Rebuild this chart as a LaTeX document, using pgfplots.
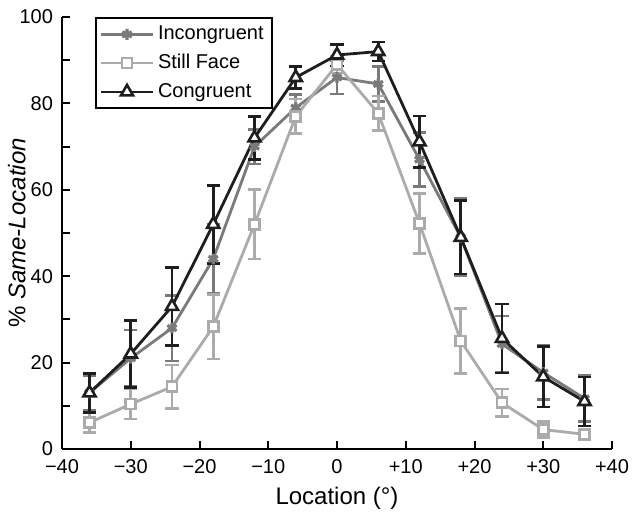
\documentclass[border=0pt]{standalone}
\usepackage{pgfplots}
\pgfplotsset{compat=1.18}
\usepackage{fontspec}
\setmainfont{Liberation Sans}
\definecolor{incon}{HTML}{7A7A7A}
\definecolor{still}{HTML}{ABABAB}
\definecolor{congr}{HTML}{1E1E1E}

\begin{document}
\begin{tikzpicture}
\begin{axis}[
  scale only axis,
  width=275pt, height=216pt,
  xmin=-40, xmax=40, ymin=0, ymax=100,
  axis lines=left,
  axis line style={-, line width=1pt},
  tick align=inside,
  tick style={line width=1pt, black},
  major tick length=4pt, minor tick length=4pt,
  xtick={-40,-30,...,40},
  xticklabels={−40,−30,−20,−10,0,+10,+20,+30,+40},
  ytick={0,20,...,100},
  yticklabels={0,20,40,60,80,100},
  minor ytick={10,30,...,90},
  ticklabel style={font=\fontsize{10}{12}\selectfont},
  yticklabel style={xshift=-1pt},
  xticklabel style={yshift=-1.5pt},
  xlabel={Location (°)},
  ylabel={\% \textit{Same-Location}},
  label style={font=\fontsize{12}{14}\selectfont},
  xlabel style={yshift=0pt},
  ylabel style={at={(axis description cs:-0.082,0.5)}, anchor=center},
  legend style={at={(axis cs:-35.2,100)}, anchor=north west,
    draw=black, line width=1pt, font=\fontsize{10}{12}\selectfont,
    inner xsep=2pt, inner ysep=2pt, row sep=1.8pt},
  legend cell align=left,
  legend image code/.code={\draw[mark repeat=2,mark phase=2]
    plot coordinates {(0cm,0cm) (0.45cm,0cm) (0.9cm,0cm)};},
  every axis plot/.append style={line width=1.4pt},
  clip=false,
]
\coordinate (bl) at (axis cs:-40,0);
\coordinate (tr) at (axis cs:40,100);

\addplot[incon, mark=asterisk, mark size=2.7pt, mark options={line width=1.6pt},
  error bars/.cd, y dir=both, y explicit,
  error bar style={line width=1.3pt, incon},
  error mark options={rotate=90, mark size=3.3pt, line width=1.3pt, incon}]
coordinates {
  (-36,13) +- (0,4)
  (-30,21) +- (0,6.5)
  (-24,28) +- (0,7.6)
  (-18,44) +- (0,8)
  (-12,70) +- (0,4)
  (-6,79) +- (0,3)
  (0,86) +- (0,3.8)
  (6,84.5) +- (0,4)
  (12,67) +- (0,6.2)
  (18,49) +- (0,9)
  (24,24.3) +- (0,6.5)
  (30,17.7) +- (0,6.3)
  (36,11.7) +- (0,5.3)
};
\addlegendentry{Incongruent}

\addplot[still, mark=square*, mark size=2.5pt, mark options={fill=white, line width=1.3pt},
  error bars/.cd, y dir=both, y explicit,
  error bar style={line width=1.3pt, still},
  error mark options={rotate=90, mark size=3.3pt, line width=1.3pt, still}]
coordinates {
  (-36,6.1) +- (0,2.3)
  (-30,10.4) +- (0,3.5)
  (-24,14.4) +- (0,5)
  (-18,28.3) +- (0,7.5)
  (-12,52) +- (0,8)
  (-6,77) +- (0,4)
  (0,89) +- (0,2)
  (6,77.7) +- (0,4)
  (12,52.2) +- (0,7)
  (18,25) +- (0,7.5)
  (24,10.7) +- (0,3.2)
  (30,4.5) +- (0,1.8)
  (36,3.4) +- (0,1)
};
\addlegendentry{Still Face}

\addplot[congr, mark=triangle*, mark size=3.5pt, mark options={fill=white, line width=1.3pt},
  error bars/.cd, y dir=both, y explicit,
  error bar style={line width=1.3pt, congr},
  error mark options={rotate=90, mark size=3.3pt, line width=1.3pt, congr}]
coordinates {
  (-36,13) +- (0,4.5)
  (-30,22) +- (0,7.8)
  (-24,33) +- (0,9)
  (-18,52) +- (0,9)
  (-12,72) +- (0,5)
  (-6,86) +- (0,2.5)
  (0,91.2) +- (0,2.5)
  (6,92) +- (0,2.2)
  (12,71.1) +- (0,6)
  (18,49) +- (0,8.5)
  (24,25.6) +- (0,8)
  (30,16.7) +- (0,7)
  (36,11) +- (0,5.7)
};
\addlegendentry{Congruent}
\end{axis}
\pgfresetboundingbox
\path ([xshift=-31pt,yshift=-33.5pt]bl) rectangle ([xshift=14pt,yshift=8.5pt]tr);
\end{tikzpicture}
\end{document}
